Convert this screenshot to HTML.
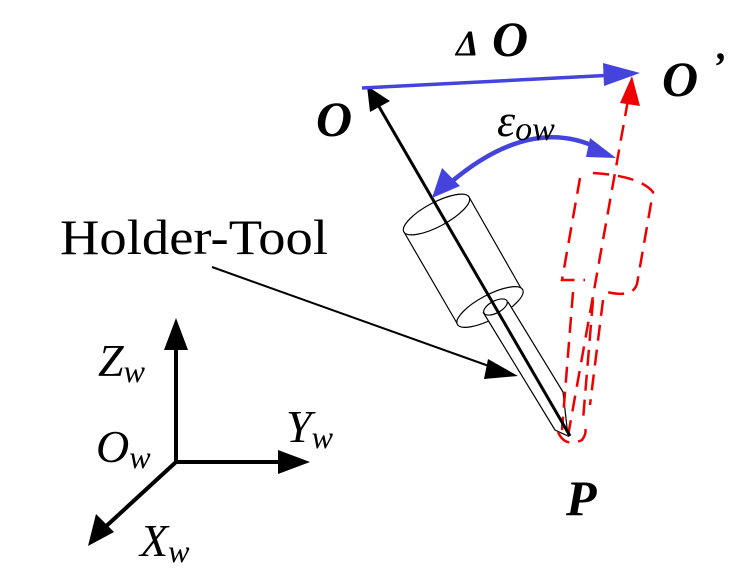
<!DOCTYPE html>
<html><head><style>html,body{margin:0;padding:0;background:#fff}svg{display:block}</style></head>
<body>
<svg width="741" height="574" viewBox="0 0 741 574" xmlns="http://www.w3.org/2000/svg" font-family="Liberation Serif, serif">
<!-- holder black -->
<g fill="#fff" stroke="#000" stroke-width="1.2">
<path d="M404,232 L458,325 L522,290 L469,197"/>
<ellipse cx="436.5" cy="214.5" rx="37" ry="12" transform="rotate(-28 436.5 214.5)"/>
<ellipse cx="490" cy="307" rx="37" ry="12" transform="rotate(-28 490 307)"/>
<path d="M483,312 L555,430 L568,436 L563,392 L508,302"/>
<ellipse cx="495.5" cy="307" rx="13" ry="6" transform="rotate(-28 495.5 307)"/>
</g>
<!-- red dashed -->
<g fill="none" stroke="#e00" stroke-width="2.5" stroke-dasharray="16,9">
<path d="M580,178 L562,280 L585,280"/>
<path d="M593,173 Q640,176 653,192 L637,284 Q632,300 600,290"/>
<path d="M573,292 L562,430"/>
<path d="M593,300 L583,420"/>
<path d="M603,300 L590,405"/>
<path d="M558,432 Q565,448 582,440 Q588,432 584,425"/>
</g>
<line x1="568" y1="436" x2="628" y2="100" stroke="#e00" stroke-width="2.5" stroke-dasharray="16,9"/>
<path d="M632,76 L620,103 L640,106z" fill="#e00"/>
<!-- black axis -->
<line x1="570" y1="436" x2="374" y2="98" stroke="#000" stroke-width="3"/>
<path d="M367,86 L370,112 L390,101z" fill="#000"/>
<!-- blue -->
<line x1="362" y1="88" x2="615" y2="75" stroke="#4444dd" stroke-width="3.5"/>
<path d="M640,73 L603,63 L604,86z" fill="#4444dd"/>
<path d="M450,183 Q530,115 598,148" fill="none" stroke="#4444dd" stroke-width="4.5"/>
<path d="M432,198 L442,168 L460,186z" fill="#4444dd"/>
<path d="M616,158 L590,138 L586,157z" fill="#4444dd"/>
<!-- holder-tool pointer -->
<line x1="212" y1="267" x2="500" y2="370" stroke="#000" stroke-width="2"/>
<path d="M518,376 L488,359 L484,379z" fill="#000"/>
<!-- axes -->
<g stroke="#000" stroke-width="4" fill="none">
<line x1="176" y1="462" x2="176" y2="345"/>
<line x1="176" y1="462" x2="280" y2="462"/>
<line x1="176" y1="462" x2="102" y2="530"/>
</g>
<path d="M176,318 L164,350 L188,350z" fill="#000"/>
<path d="M310,462 L278,450 L278,474z" fill="#000"/>
<path d="M88,546 L96,514 L114,532z" fill="#000"/>
<!-- labels -->
<g font-style="italic" font-weight="bold" fill="#000">
<text x="316" y="136" font-size="50">O</text>
<text x="662" y="96" font-size="50">O</text>
<text x="712" y="80" font-size="40">’</text>
<text x="456" y="55" font-size="36">Δ</text>
<text x="492" y="56" font-size="50">O</text>
<text x="566" y="515" font-size="50">P</text>
</g>
<text x="497" y="136" font-size="46" font-style="italic">ε<tspan font-size="34" dy="4">ow</tspan></text>
<text x="60" y="254" font-size="50" textLength="268" lengthAdjust="spacingAndGlyphs">Holder-Tool</text>
<g font-style="italic" font-size="46">
<text x="98" y="376">Z<tspan font-size="32" dy="6">w</tspan></text>
<text x="96" y="462">O<tspan font-size="32" dy="6">w</tspan></text>
<text x="286" y="442">Y<tspan font-size="32" dy="6">w</tspan></text>
<text x="140" y="556">X<tspan font-size="32" dy="6">w</tspan></text>
</g>
</svg>
</body></html>
